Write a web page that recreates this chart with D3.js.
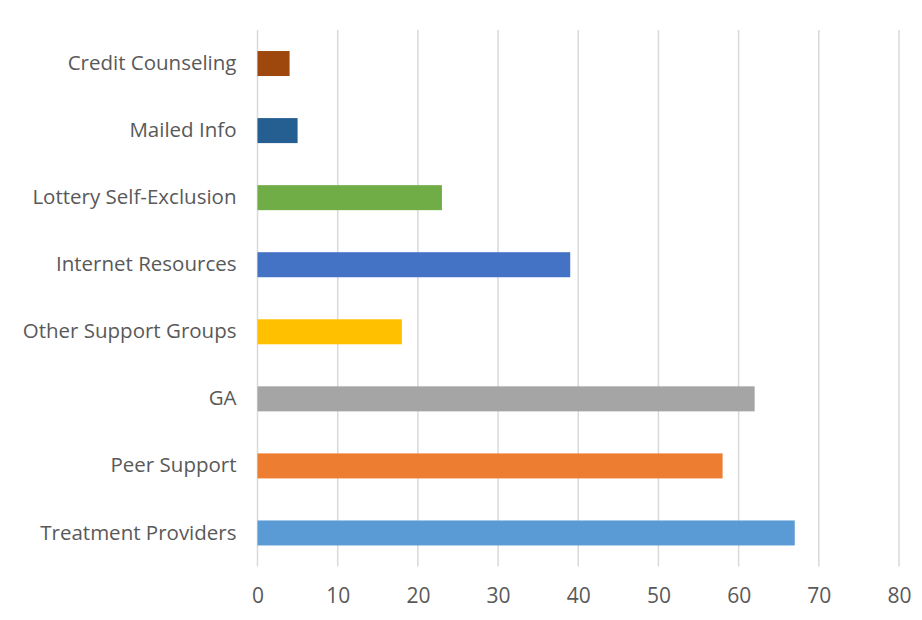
<!DOCTYPE html>
<html><head><meta charset="utf-8">
<script src="https://cdn.jsdelivr.net/npm/d3@7"></script>
<style>body{margin:0;background:#fff}svg{display:block}</style>
</head><body>
<svg id="chart" width="922" height="620"></svg>
<script>
const categories = ["Credit Counseling","Mailed Info","Lottery Self-Exclusion","Internet Resources","Other Support Groups","GA","Peer Support","Treatment Providers"];
const values = [4,5,23,39,18,62,58,67];
const colors = ["#9E480E","#255E91","#70AD47","#4472C4","#FFC000","#A5A5A5","#ED7D31","#5B9BD5"];
const xTicks = [0,10,20,30,40,50,60,70,80];

const svg = d3.select("#chart");
const mLeft = 257.5, mRight = 899, mTop = 30, mBottom = 566.5;
const x = d3.scaleLinear().domain([0,80]).range([mLeft,mRight]);
const y = d3.scaleBand().domain(categories).range([mTop,mBottom]).paddingInner(0.627).paddingOuter(0.3135);
const font = "'Open Sans', sans-serif";

svg.append("g").selectAll("line").data(xTicks).join("line")
  .attr("x1",d=>x(d)).attr("x2",d=>x(d)).attr("y1",mTop).attr("y2",mBottom)
  .attr("stroke","#D9D9D9").attr("stroke-width",1.5);

svg.append("g").selectAll("rect").data(categories).join("rect")
  .attr("x",x(0)).attr("y",d=>y(d)).attr("height",y.bandwidth())
  .attr("width",(d,i)=>x(values[i])-x(0)).attr("fill",(d,i)=>colors[i]);

const xAxis = svg.append("g").attr("transform",`translate(0,${mBottom})`)
  .call(d3.axisBottom(x).tickValues(xTicks).tickSize(0).tickPadding(22));
xAxis.select(".domain").remove();
xAxis.selectAll("text").attr("fill","#595959").style("font-family",font).style("font-size","21px");

const yAxis = svg.append("g").attr("transform",`translate(${mLeft-21},0)`)
  .call(d3.axisLeft(y).tickSize(0).tickPadding(0));
yAxis.select(".domain").remove();
yAxis.selectAll("text").attr("fill","#595959").style("font-family",font).style("font-size","20.5px");
</script>
</body></html>
